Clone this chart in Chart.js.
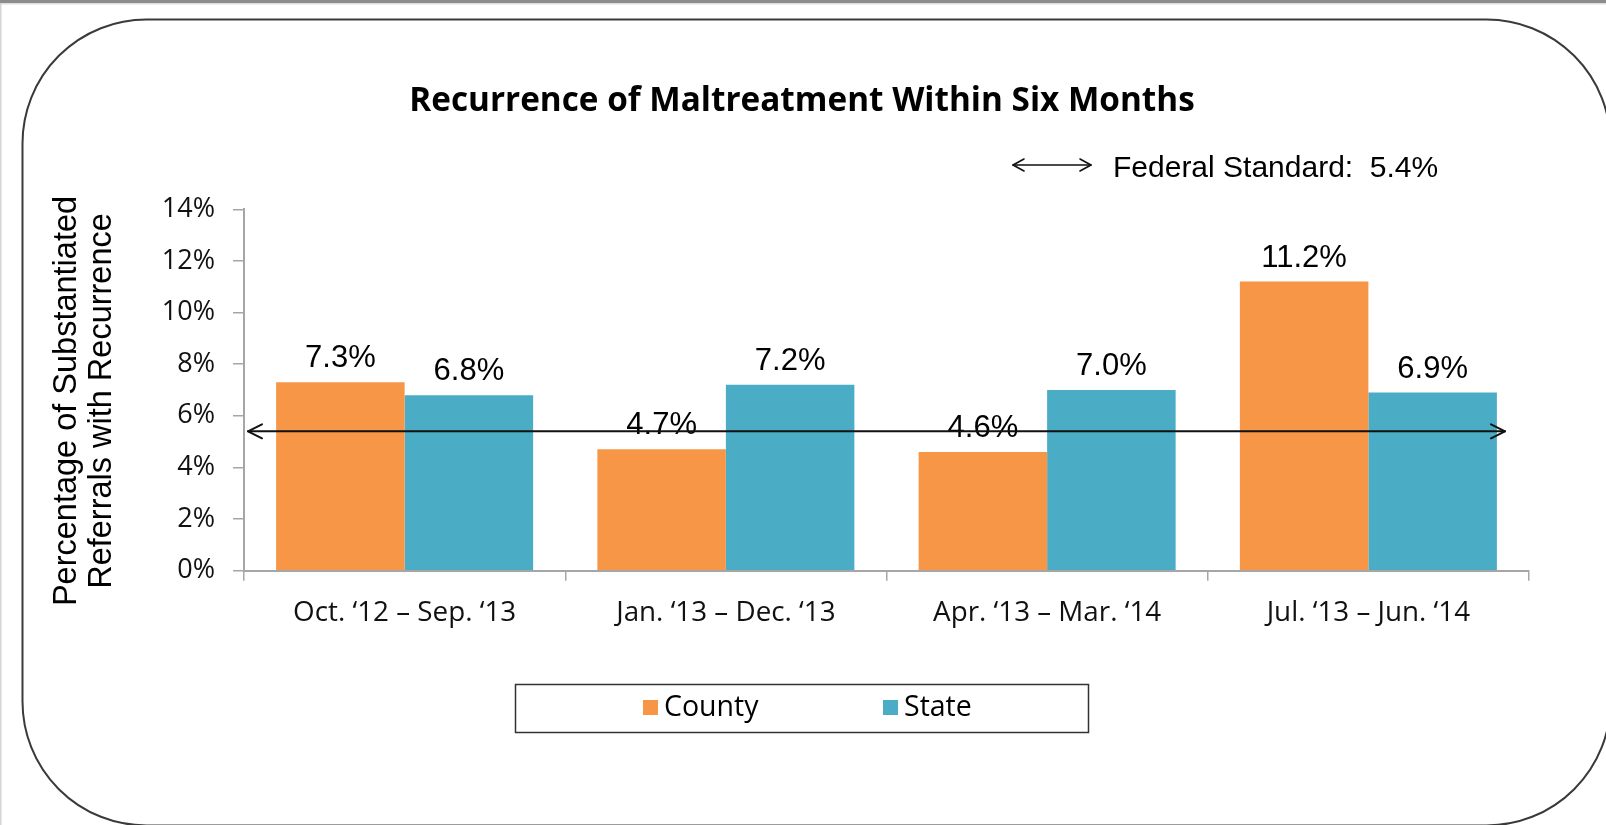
<!DOCTYPE html>
<html>
<head>
<meta charset="utf-8">
<script src="https://cdn.jsdelivr.net/npm/chart.js@4.4.1/dist/chart.umd.min.js"></script>
<style>
  html, body { margin: 0; padding: 0; background: #fff; overflow: hidden; }
  canvas { display: block; }
</style>
</head>
<body>
<canvas id="chart" width="1606" height="825"></canvas>
<script>
// Reporting periods (12-month windows)
const periods = [
  'Oct. \u201812 \u2013 Sep. \u201813',
  'Jan. \u201813 \u2013 Dec. \u201813',
  'Apr. \u201813 \u2013 Mar. \u201814',
  'Jul. \u201813 \u2013 Jun. \u201814'
];
// Percentage of substantiated referrals with a recurrence within six months
const countyRates = [7.3, 4.7, 4.6, 11.2];
const stateRates = [6.8, 7.2, 7.0, 6.9];
// Federal standard (percent)
const federalStandard = 5.4;
// Y-axis tick values (percent)
const yTicks = [0, 2, 4, 6, 8, 10, 12, 14];
// Y-axis title lines
const yTitleLines = ['Percentage of Substantiated', 'Referrals with Recurrence'];

const SANS = '"Open Sans", "Noto Sans", sans-serif';
const ARIAL = '"Liberation Sans", Arial, sans-serif';

// Page background, top rule and rounded panel border
const panelPlugin = {
  id: 'panel',
  beforeDraw(chart) {
    const ctx = chart.ctx;
    const W = chart.width, H = chart.height;
    ctx.save();
    ctx.fillStyle = '#ffffff';
    ctx.fillRect(0, 0, W, H);
    ctx.fillStyle = '#8c8c8c';
    ctx.fillRect(0, 0, W, 3);
    ctx.fillStyle = '#dedede';
    ctx.fillRect(0, 3, W, 1.5);
    ctx.fillStyle = '#d4d4d4';
    ctx.fillRect(0, 3, 1.5, H);
    ctx.beginPath();
    ctx.roundRect(22.5, 19.5, 1588, 806, 124);
    ctx.strokeStyle = '#3a3a3a';
    ctx.lineWidth = 2;
    ctx.stroke();
    ctx.restore();
  }
};

// Rotated two-line title for the value axis
const yTitlePlugin = {
  id: 'yTitle',
  afterDraw(chart) {
    const ctx = chart.ctx;
    ctx.save();
    ctx.font = '32.5px ' + ARIAL;
    ctx.fillStyle = '#000';
    ctx.textAlign = 'center';
    ctx.textBaseline = 'middle';
    ctx.translate(67, 401);
    ctx.rotate(-Math.PI / 2);
    yTitleLines.forEach((line, i) => ctx.fillText(line, 0, i * 35.5));
    ctx.restore();
  }
};

// Value labels above every bar
const valueLabelPlugin = {
  id: 'valueLabels',
  afterDatasetsDraw(chart) {
    const ctx = chart.ctx;
    ctx.save();
    ctx.font = '31px ' + ARIAL;
    ctx.fillStyle = '#000';
    ctx.textAlign = 'center';
    ctx.textBaseline = 'alphabetic';
    chart.data.datasets.forEach((ds, di) => {
      chart.getDatasetMeta(di).data.forEach((bar, i) => {
        ctx.fillText(ds.data[i].toFixed(1) + '%', bar.x, bar.y - 15);
      });
    });
    ctx.restore();
  }
};

function arrowHead(ctx, x, y, dir, len, half) {
  ctx.beginPath();
  ctx.moveTo(x - dir * len, y - half);
  ctx.lineTo(x, y);
  ctx.lineTo(x - dir * len, y + half);
  ctx.stroke();
}

// Double-headed reference line at the federal standard, plus its key
const federalPlugin = {
  id: 'federalStandard',
  afterDatasetsDraw(chart) {
    const ctx = chart.ctx;
    const area = chart.chartArea;
    const y = chart.scales.y.getPixelForValue(federalStandard);
    const x0 = area.left + 4, x1 = area.right - 24;
    ctx.save();
    ctx.strokeStyle = '#111';
    ctx.lineWidth = 2;
    ctx.lineCap = 'round';
    ctx.lineJoin = 'round';
    ctx.beginPath();
    ctx.moveTo(x0, y);
    ctx.lineTo(x1, y);
    ctx.stroke();
    arrowHead(ctx, x0, y, -1, 14, 7);
    arrowHead(ctx, x1, y, 1, 14, 7);

    // key
    const ky = 165, kx0 = 1013, kx1 = 1091;
    ctx.lineWidth = 1.6;
    ctx.beginPath();
    ctx.moveTo(kx0, ky);
    ctx.lineTo(kx1, ky);
    ctx.stroke();
    arrowHead(ctx, kx0, ky, -1, 11, 6);
    arrowHead(ctx, kx1, ky, 1, 11, 6);
    ctx.font = '30px ' + ARIAL;
    ctx.fillStyle = '#000';
    ctx.textAlign = 'left';
    ctx.textBaseline = 'alphabetic';
    ctx.fillText('Federal Standard:  ' + federalStandard.toFixed(1) + '%', 1113, 177);
    ctx.restore();
  }
};

// Boxed series key below the axis
const seriesKeyPlugin = {
  id: 'seriesKey',
  afterDraw(chart) {
    const ctx = chart.ctx;
    ctx.save();
    ctx.strokeStyle = '#333';
    ctx.lineWidth = 1.5;
    ctx.strokeRect(515.5, 684.5, 573, 48);
    ctx.font = '28.5px ' + SANS;
    ctx.textAlign = 'left';
    ctx.textBaseline = 'middle';
    const starts = [643, 883];
    chart.data.datasets.forEach((ds, i) => {
      const x = starts[i];
      ctx.fillStyle = ds.backgroundColor;
      ctx.fillRect(x, 700, 15, 15);
      ctx.fillStyle = '#000';
      ctx.fillText(ds.label, x + 21, 708);
    });
    ctx.restore();
  }
};

new Chart(document.getElementById('chart'), {
  type: 'bar',
  data: {
    labels: periods,
    datasets: [
      { label: 'County', data: countyRates, backgroundColor: '#f79646', categoryPercentage: 0.8, barPercentage: 1 },
      { label: 'State', data: stateRates, backgroundColor: '#4bacc6', categoryPercentage: 0.8, barPercentage: 1 }
    ]
  },
  options: {
    responsive: false,
    animation: false,
    layout: { padding: { left: 75, right: 77, top: 0, bottom: 0 } },
    plugins: {
      legend: { display: false },
      tooltip: { enabled: false },
      title: {
        display: true,
        text: 'Recurrence of Maltreatment Within Six Months',
        color: '#000',
        font: { family: SANS, size: 33.3, weight: 'bold', lineHeight: 1.2 },
        padding: { top: 82, bottom: 87.3 }
      }
    },
    scales: {
      x: {
        grid: { drawOnChartArea: false, tickLength: 10, color: '#a6a6a6', lineWidth: 1.5 },
        border: { display: true, color: '#a6a6a6', width: 2 },
        ticks: { color: '#111', font: { family: SANS, size: 27.8 }, padding: 16, maxRotation: 0, autoSkip: false },
        afterFit(scale) { scale.height = 254.3; }
      },
      y: {
        min: 0,
        max: 14,
        afterBuildTicks(scale) { scale.ticks = yTicks.map(v => ({ value: v })); },
        grid: { drawOnChartArea: false, tickLength: 11, color: '#a6a6a6', lineWidth: 1.5 },
        border: { display: true, color: '#a6a6a6', width: 2 },
        ticks: { color: '#111', font: { family: SANS, size: 27 }, padding: 18, callback: v => v + '%' },
        afterFit(scale) { scale.width = 169; }
      }
    }
  },
  plugins: [panelPlugin, yTitlePlugin, valueLabelPlugin, federalPlugin, seriesKeyPlugin]
});
</script>
</body>
</html>
